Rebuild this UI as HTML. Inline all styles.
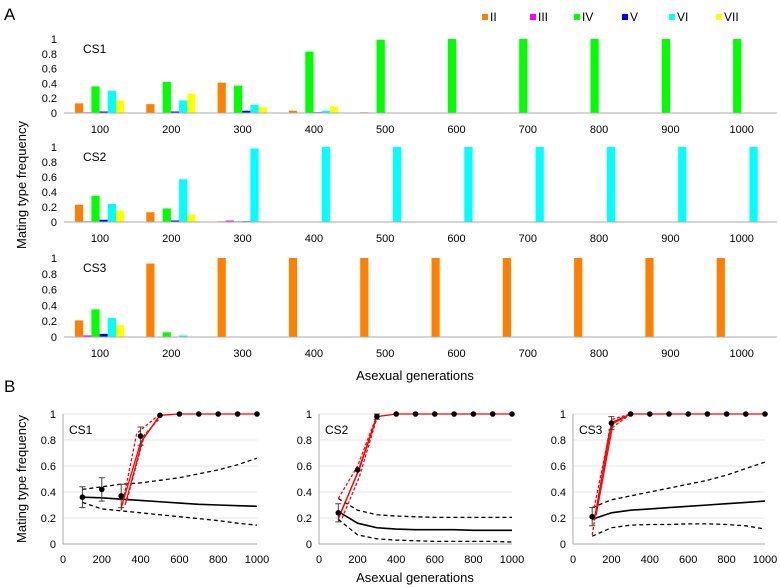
<!DOCTYPE html>
<html><head><meta charset="utf-8">
<style>
html,body{margin:0;padding:0;background:#fff;}
svg{display:block;font-family:"Liberation Sans",Arial,sans-serif;}
</style></head>
<body>
<svg id="fig" width="780" height="588" viewBox="0 0 780 588" xmlns="http://www.w3.org/2000/svg">
<text x="4" y="20" font-size="17">A</text>
<text x="4" y="392" font-size="17">B</text>
<text transform="translate(26,185) rotate(-90)" font-size="13" text-anchor="middle">Mating type frequency</text>
<text x="415" y="380" font-size="13" text-anchor="middle">Asexual generations</text>
<text transform="translate(26,479) rotate(-90)" font-size="13" text-anchor="middle">Mating type frequency</text>
<text x="415" y="582" font-size="13" text-anchor="middle">Asexual generations</text>
<g id="legend"></g>
<g id="panelA"></g>
<g id="panelB"></g>
</svg>
<script>
// ---- Panel A data ----
const categories = [100,200,300,400,500,600,700,800,900,1000];
const types = ["II","III","IV","V","VI","VII"];
const typeColors = ["#ff8000","#ff00ff","#00ff00","#0000ff","#00ffff","#ffff00"];
const yTicksA = [0,0.2,0.4,0.6,0.8,1];
const yTickLabelsA = ["0","0.2","0.4","0.6","0.8","1"];
// each row: [II,III,IV,V,VI,VII] per generation
const cs1 = [
 [0.13,0.01,0.36,0.02,0.30,0.17],[0.12,0,0.42,0.02,0.17,0.26],[0.41,0,0.37,0.03,0.11,0.08],
 [0.03,0,0.83,0.01,0.03,0.09],[0.01,0,0.99,0,0,0],[0,0,1,0,0,0],[0,0,1,0,0,0],[0,0,1,0,0,0],[0,0,1,0,0,0],[0,0,1,0,0,0]];
const cs2 = [
 [0.23,0.01,0.35,0.03,0.24,0.15],[0.13,0,0.18,0.02,0.57,0.10],[0.01,0.02,0.01,0.01,0.98,0.01],
 [0,0,0,0,1,0],[0,0,0,0,1,0],[0,0,0,0,1,0],[0,0,0,0,1,0],[0,0,0,0,1,0],[0,0,0,0,1,0],[0,0,0,0,1,0]];
const cs3 = [
 [0.21,0.02,0.35,0.04,0.24,0.15],[0.93,0,0.06,0,0.02,0],[1,0,0,0,0,0],
 [1,0,0,0,0,0],[1,0,0,0,0,0],[1,0,0,0,0,0],[1,0,0,0,0,0],[1,0,0,0,0,0],[1,0,0,0,0,0],[1,0,0,0,0,0]];
const csNames = ["CS1","CS2","CS3"];

// ---- Panel B data ----
const gens = [100,200,300,400,500,600,700,800,900,1000];
const xTicksB = [0,200,400,600,800,1000];
const yTicksB = [0,0.2,0.4,0.6,0.8,1];
const yTickLabelsB = ["0","0.2","0.4","0.6","0.8","1"];
const b1Mean = [0.36,0.42,0.37,0.83,0.99,1,1,1,1,1];
const b1Err  = [0.08,0.09,0.09,0.07,0.01,0,0,0,0,0];
const b1Solid = [0.36,0.355,0.345,0.335,0.325,0.315,0.305,0.30,0.295,0.29];
const b1Upper = [0.42,0.44,0.46,0.47,0.49,0.51,0.54,0.57,0.61,0.66];
const b1Lower = [0.32,0.27,0.255,0.24,0.225,0.21,0.195,0.18,0.16,0.145];
const b1RedSolidX = [[300,400,500],[320,410,500]];
const b1RedSolidY = [[0.28,0.78,0.99],[0.30,0.80,0.99]];
const b1RedDashX = [[300,380,500],[330,420,500]];
const b1RedDashY = [[0.26,0.85,1.0],[0.34,0.84,0.97]];

const b2Mean = [0.24,0.57,0.98,1,1,1,1,1,1,1];
const b2Err  = [0.07,0.01,0.02,0,0,0,0,0,0,0];
const b2Solid = [0.25,0.16,0.125,0.115,0.11,0.11,0.11,0.105,0.105,0.105];
const b2Upper = [0.35,0.26,0.225,0.215,0.21,0.205,0.205,0.205,0.205,0.205];
const b2Lower = [0.19,0.07,0.04,0.03,0.025,0.02,0.02,0.02,0.02,0.015];
const b2RedSolidX = [[100,200,300],[115,210,300]];
const b2RedSolidY = [[0.19,0.55,0.98],[0.25,0.58,0.98]];
const b2RedDashX = [[100,200,300],[120,210,300]];
const b2RedDashY = [[0.35,0.60,0.99],[0.20,0.52,0.97]];

const b3Mean = [0.21,0.93,1,1,1,1,1,1,1,1];
const b3Err  = [0.07,0.05,0,0,0,0,0,0,0,0];
const b3Solid = [0.19,0.24,0.26,0.27,0.28,0.29,0.30,0.31,0.32,0.33];
const b3Upper = [0.28,0.34,0.37,0.40,0.43,0.46,0.49,0.53,0.58,0.63];
const b3Lower = [0.06,0.125,0.145,0.15,0.15,0.155,0.155,0.15,0.14,0.115];
const b3RedSolidX = [[110,200,300],[120,210,300]];
const b3RedSolidY = [[0.18,0.92,1],[0.22,0.94,1]];
const b3RedDashX = [[100,190,300],[110,205,300]];
const b3RedDashY = [[0.07,0.88,1],[0.28,0.96,1]];

const NS = "http://www.w3.org/2000/svg";
function mk(tag, attrs, parent){const e=document.createElementNS(NS,tag);for(const k in attrs)e.setAttribute(k,attrs[k]);parent.appendChild(e);return e;}

// Legend
const leg = document.getElementById("legend");
const legX = [482,530,574,622,669,716];
types.forEach((t,i)=>{
  const g = mk("g",{},leg);
  
  
  mk("rect",{x:legX[i],y:14,width:6,height:6,fill:typeColors[i]},g);
  const tx = mk("text",{x:legX[i]+8,y:21,"font-size":12},g);
  tx.textContent = t;
});

// Panel A
const pa = document.getElementById("panelA");
const subA = [{data:cs1,y0:113,y1:39},{data:cs2,y0:222,y1:147},{data:cs3,y0:337,y1:258}];
function xCat(i){return 100+71.3*i;}
subA.forEach((s,si)=>{
  const g = mk("g",{},pa);
  
  
  const yS = v => s.y0 - (s.y0-s.y1)*v;
  yTicksA.forEach((v,k)=>{
    const t = mk("text",{x:57,y:yS(v)+4,"font-size":11,"text-anchor":"end"},g);
    
    
    t.textContent = yTickLabelsA[k];
  });
  categories.forEach((c,i)=>{
    s.data[i].forEach((v,k)=>{
      if(v<=0) return;
      const r = mk("rect",{x:xCat(i)-25+k*8.2,y:yS(v),width:8.2,height:s.y0-yS(v),fill:typeColors[k]},g);
      
      
    });
    const t = mk("text",{x:xCat(i),y:s.y0+20,"font-size":11,"text-anchor":"middle"},g);
    
    
    t.textContent = c;
  });
  mk("line",{x1:64,x2:777,y1:s.y0,y2:s.y0,stroke:"#aaa","stroke-width":1},g);
  const nm = mk("text",{x:83,y:s.y1+14,"font-size":12},g);
  
  
  nm.textContent = csNames[si];
});

// Panel B
const pb = document.getElementById("panelB");
const subB = [
 {x0:63,x1:257,mean:b1Mean,err:b1Err,solid:b1Solid,up:b1Upper,lo:b1Lower,rsx:b1RedSolidX,rsy:b1RedSolidY,rdx:b1RedDashX,rdy:b1RedDashY},
 {x0:319,x1:512,mean:b2Mean,err:b2Err,solid:b2Solid,up:b2Upper,lo:b2Lower,rsx:b2RedSolidX,rsy:b2RedSolidY,rdx:b2RedDashX,rdy:b2RedDashY},
 {x0:573,x1:765,mean:b3Mean,err:b3Err,solid:b3Solid,up:b3Upper,lo:b3Lower,rsx:b3RedSolidX,rsy:b3RedSolidY,rdx:b3RedDashX,rdy:b3RedDashY}];
const by0=544, by1=414;
subB.forEach((s,si)=>{
  const g = mk("g",{},pb);
  
  
  const X = v => s.x0 + (s.x1-s.x0)*v/1000;
  const Y = v => by0 - (by0-by1)*v;
  yTicksB.forEach((v,k)=>{
    if(v>0) mk("line",{x1:s.x0,x2:s.x1,y1:Y(v),y2:Y(v),stroke:"#e6e6e6","stroke-width":1},g);
    const t = mk("text",{x:s.x0-7,y:Y(v)+4,"font-size":11,"text-anchor":"end"},g);
    
    
    t.textContent = yTickLabelsB[k];
  });
  xTicksB.forEach(v=>{
    const t = mk("text",{x:X(v),y:by0+19,"font-size":11,"text-anchor":"middle"},g);
    
    
    t.textContent = v;
  });
  mk("line",{x1:s.x0,x2:s.x1,y1:by0,y2:by0,stroke:"#aaa"},g);
  mk("line",{x1:s.x0,x2:s.x0,y1:by1,y2:by0,stroke:"#aaa"},g);
  const pts = arr => arr.map((v,i)=>X(gens[i])+","+Y(v)).join(" ");
  const l1 = mk("polyline",{points:pts(s.solid),fill:"none",stroke:"#000","stroke-width":1.6},g);
  
  
  [s.up,s.lo].forEach(a=>{
    const l = mk("polyline",{points:pts(a),fill:"none",stroke:"#000","stroke-width":1.3,"stroke-dasharray":"4,3"},g);
    
    
  });
  s.rsx.forEach((xs,k)=>{
    const l = mk("polyline",{points:xs.map((x,j)=>X(x)+","+Y(s.rsy[k][j])).join(" "),fill:"none",stroke:"#ff0000","stroke-width":1.3},g);
    
    
  });
  s.rdx.forEach((xs,k)=>{
    const l = mk("polyline",{points:xs.map((x,j)=>X(x)+","+Y(s.rdy[k][j])).join(" "),fill:"none",stroke:"#ff0000","stroke-width":1.3,"stroke-dasharray":"3,2"},g);
    
    
  });
  // red line along observed fixed values
  const firstOne = s.mean.findIndex(v=>v>=0.98);
  const rl = mk("polyline",{points:gens.slice(firstOne).map((x,j)=>X(x)+","+Y(s.mean[firstOne+j])).join(" "),fill:"none",stroke:"#ff0000","stroke-width":1.3},g);
  
  
  gens.forEach((x,i)=>{
    if(s.err[i]>0.015){
      const e = mk("path",{d:`M${X(x)},${Y(s.mean[i]-s.err[i])}V${Y(s.mean[i]+s.err[i])}M${X(x)-3},${Y(s.mean[i]-s.err[i])}h6M${X(x)-3},${Y(s.mean[i]+s.err[i])}h6`,stroke:"#444","stroke-width":1,fill:"none"},g);
      
      
    }
    const c = mk("circle",{cx:X(x),cy:Y(s.mean[i]),r:2.8,fill:"#000"},g);
    
    
  });
  const nm = mk("text",{x:s.x0+6,y:by1+20,"font-size":12},g);
  
  
  nm.textContent = csNames[si];
});
</script>
</body></html>
